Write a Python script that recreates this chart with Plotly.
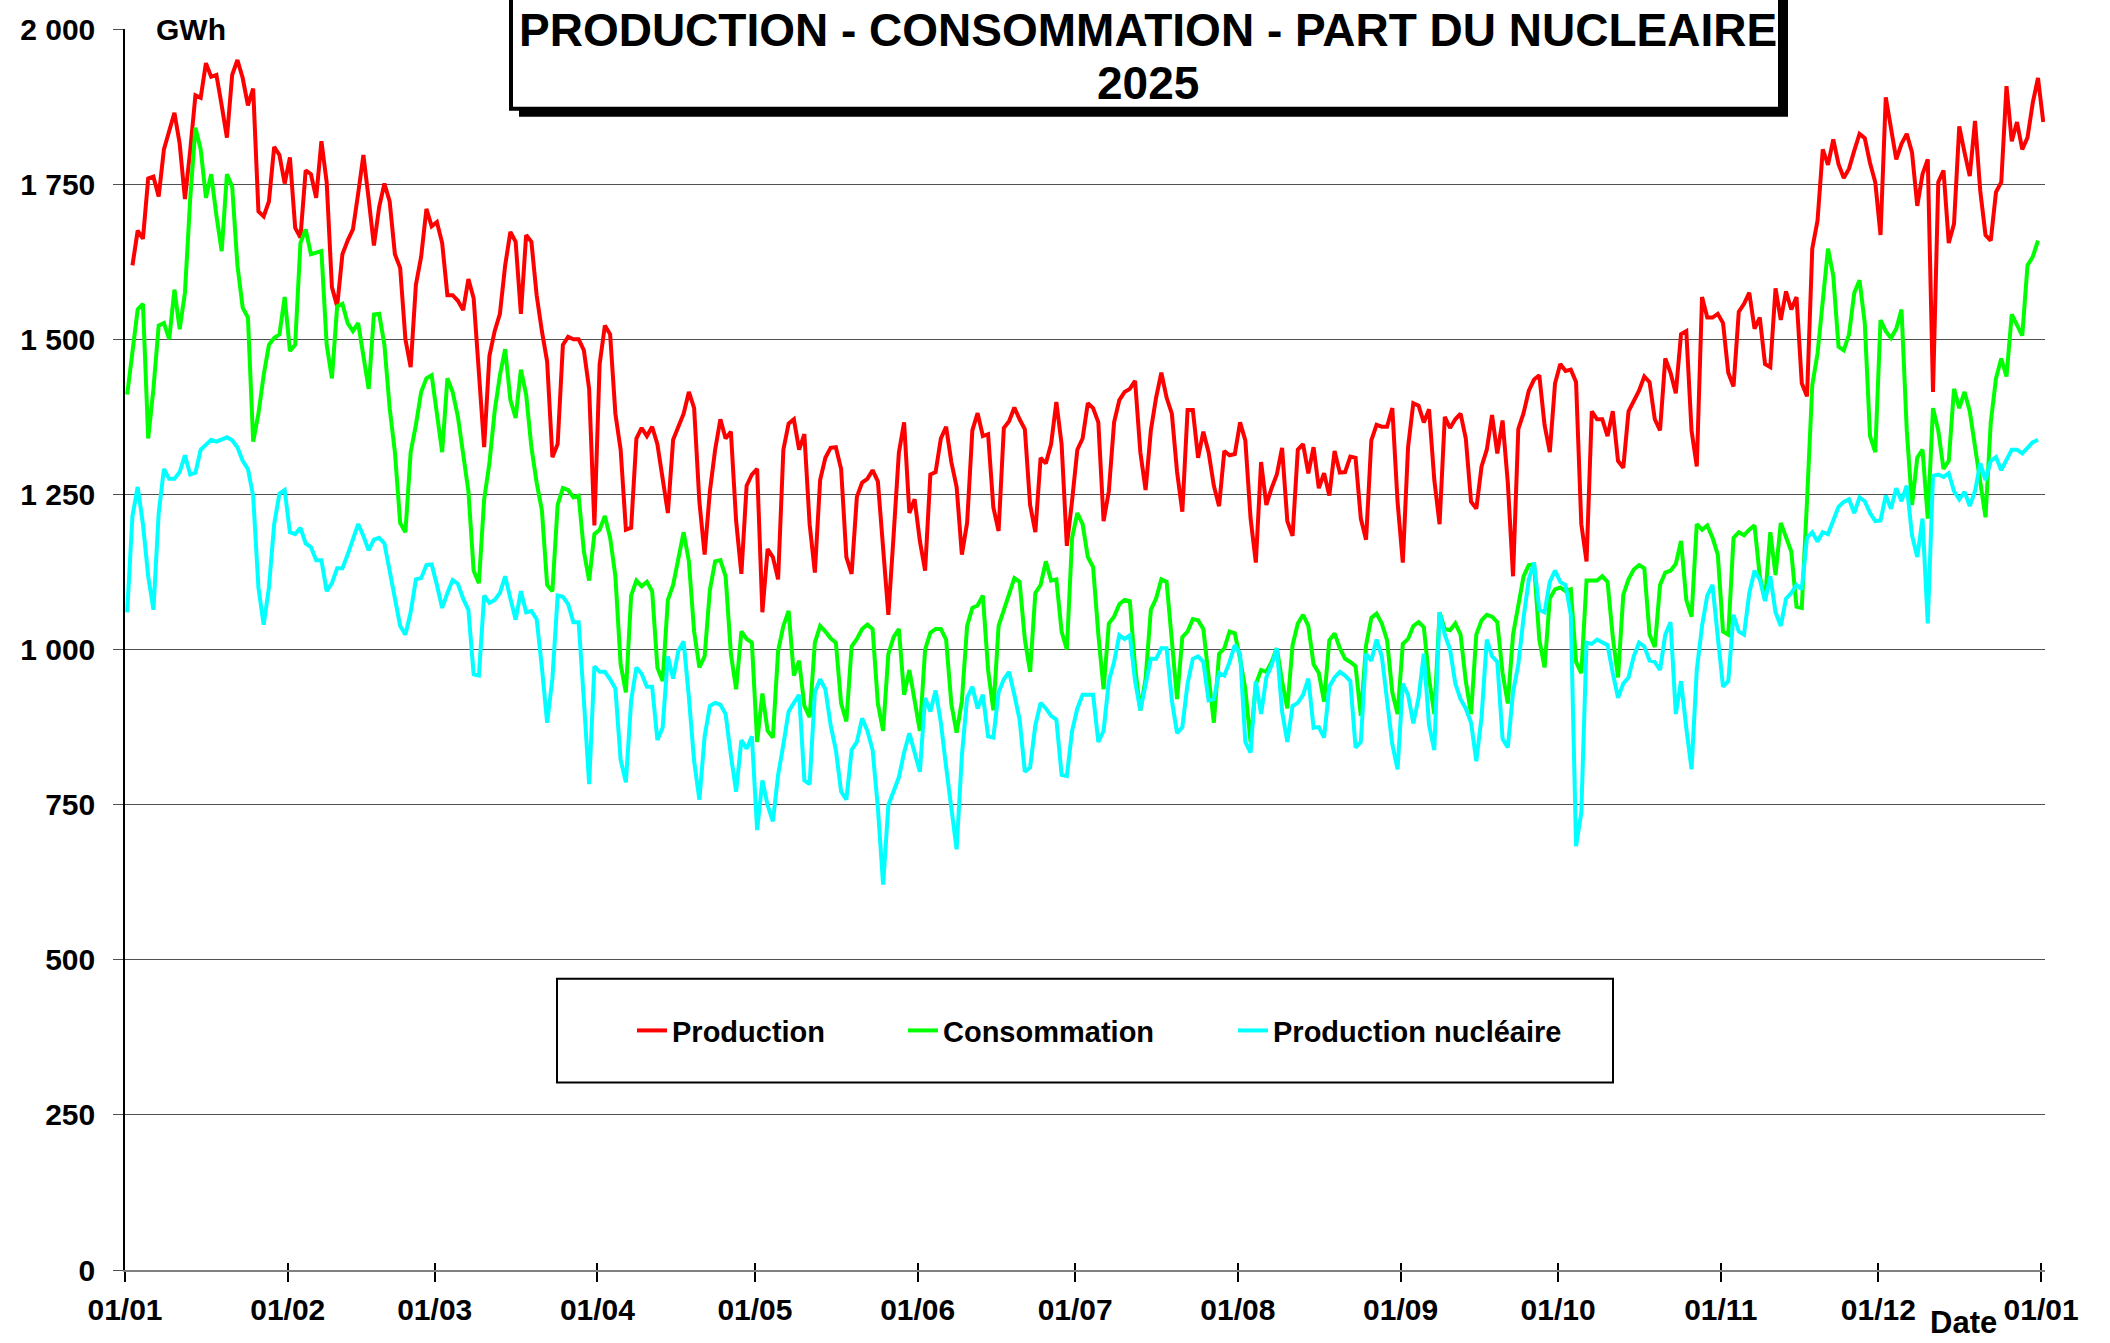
import pandas as pd
import plotly.graph_objects as go

# ---------------- data (GWh, daily, 2025) ----------------
production = [
    1619, 1675, 1662, 1759, 1762, 1730, 1806, 1834, 1865, 1815, 1726, 1804, 1893, 1889, 1945, 1923, 1926, 1877, 1825, 1926,
    1950, 1921, 1877, 1904, 1706, 1698, 1722, 1810, 1797, 1751, 1793, 1680, 1664, 1772, 1766, 1728,
    1819, 1753, 1584, 1553, 1637, 1659, 1677, 1735, 1797, 1726, 1651, 1713, 1751, 1722, 1637, 1615, 1500, 1455, 1588, 1633,
    1710, 1682, 1689, 1655, 1571, 1571, 1562, 1547, 1597, 1566, 1442, 1326, 1473, 1513, 1541, 1619, 1673,
    1657, 1541, 1668, 1657, 1571, 1513, 1464, 1310, 1331, 1491, 1504, 1500, 1500, 1482, 1420, 1200, 1460, 1522, 1508, 1380,
    1322, 1193, 1196, 1340, 1357, 1344, 1359, 1331, 1273, 1220, 1338, 1359, 1380, 1415, 1389, 1238,
    1153, 1255, 1322, 1371, 1340, 1351, 1207, 1122, 1264, 1282, 1291, 1060, 1162, 1149, 1113, 1322, 1364, 1371, 1322, 1347,
    1202, 1124, 1273, 1309, 1325, 1326, 1291, 1149, 1122, 1246, 1269, 1275, 1289, 1271, 1162, 1056,
    1184, 1317, 1366, 1220, 1242, 1175, 1127, 1282, 1286, 1340, 1359, 1302, 1262, 1153, 1204, 1353, 1381, 1344, 1347, 1229,
    1191, 1357, 1368, 1390, 1371, 1355, 1233, 1189, 1309, 1300, 1331, 1399, 1331, 1167, 1240, 1322,
    1340, 1397, 1389, 1366, 1207, 1255, 1366, 1402, 1415, 1420, 1433, 1318, 1257, 1353, 1406, 1446, 1406, 1380, 1286, 1222,
    1386, 1386, 1309, 1351, 1318, 1264, 1231, 1320, 1313, 1315, 1366, 1337, 1211, 1140, 1302, 1233, 1260,
    1282, 1325, 1207, 1183, 1322, 1331, 1284, 1326, 1260, 1284, 1248, 1320, 1285, 1286, 1311, 1309, 1211, 1177, 1337, 1362,
    1359, 1359, 1389, 1238, 1140, 1326, 1397, 1393, 1366, 1387, 1273, 1202, 1375, 1357, 1371, 1380,
    1340, 1238, 1227, 1295, 1322, 1378, 1316, 1369, 1269, 1118, 1355, 1381, 1417, 1435, 1442, 1362, 1318, 1429, 1460, 1449,
    1451, 1431, 1202, 1142, 1384, 1371, 1371, 1344, 1384, 1304, 1293, 1384, 1399, 1417, 1440, 1431,
    1371, 1353, 1469, 1446, 1413, 1508, 1513, 1353, 1295, 1568, 1535, 1535, 1541, 1526, 1446, 1424, 1544, 1557, 1575, 1517,
    1535, 1460, 1455, 1582, 1531, 1577, 1548, 1568, 1429, 1408, 1646, 1691, 1806, 1781, 1822, 1782,
    1760, 1775, 1804, 1831, 1824, 1784, 1753, 1668, 1890, 1840, 1790, 1815, 1831, 1801, 1715, 1766, 1790, 1415, 1753, 1772,
    1655, 1686, 1843, 1801, 1763, 1852, 1739, 1668, 1659, 1737, 1753, 1908, 1819, 1850, 1806, 1825, 1881, 1921, 1850,
]

consommation = [
    1411, 1477, 1548, 1557, 1340, 1420, 1522, 1526, 1500, 1580, 1516, 1575, 1726, 1841, 1806, 1728, 1766, 1699, 1642, 1766,
    1746, 1619, 1551, 1535, 1335, 1380, 1442, 1491, 1502, 1508, 1568, 1481, 1491, 1655, 1677, 1637, 1639,
    1642, 1491, 1437, 1553, 1557, 1526, 1513, 1526, 1468, 1420, 1540, 1541, 1491, 1389, 1318, 1204, 1189, 1318, 1362, 1415,
    1437, 1442, 1380, 1318, 1437, 1415, 1375, 1313, 1255, 1127, 1107, 1242, 1300, 1384, 1442, 1484, 1402,
    1373, 1451, 1411, 1326, 1269, 1224, 1104, 1094, 1233, 1260, 1257, 1245, 1248, 1158, 1111, 1186, 1193, 1215, 1180, 1118,
    976, 931, 1087, 1111, 1102, 1109, 1094, 971, 949, 1080, 1104, 1149, 1189, 1142, 1029, 971,
    989, 1096, 1142, 1144, 1118, 993, 936, 1029, 1017, 1011, 851, 929, 869, 858, 998, 1038, 1062, 958, 982, 909,
    891, 1011, 1038, 1029, 1018, 1011, 913, 884, 1005, 1017, 1033, 1040, 1033, 913, 869, 993,
    1020, 1033, 927, 967, 922, 869, 1000, 1027, 1033, 1033, 1016, 912, 866, 917, 1038, 1067, 1071, 1087, 967, 902,
    1038, 1064, 1091, 1115, 1109, 1016, 964, 1091, 1104, 1142, 1111, 1113, 1029, 1000, 1180, 1220,
    1202, 1149, 1133, 1024, 936, 1042, 1053, 1073, 1080, 1078, 971, 902, 953, 1064, 1082, 1113, 1109, 1016, 920, 1020,
    1029, 1049, 1047, 1033, 958, 882, 993, 1002, 1029, 1026, 985, 936, 851, 944, 967, 964, 980,
    1002, 949, 905, 1007, 1042, 1056, 1038, 976, 962, 916, 1015, 1026, 1002, 985, 980, 973, 893, 1007, 1051, 1058,
    1042, 1015, 931, 896, 1009, 1017, 1038, 1044, 1036, 953, 896, 1060, 1033, 1031, 1042, 1024,
    949, 896, 1024, 1047, 1056, 1053, 1044, 962, 913, 1024, 1069, 1118, 1136, 1137, 1016, 971, 1082, 1097, 1100, 1094,
    1097, 980, 962, 1111, 1111, 1111, 1118, 1109, 1020, 955, 1088, 1113, 1129, 1136, 1131, 1024,
    1004, 1104, 1124, 1127, 1138, 1175, 1080, 1053, 1202, 1193, 1200, 1180, 1153, 1029, 1024, 1180, 1189, 1184, 1193, 1200,
    1118, 1080, 1189, 1120, 1204, 1180, 1158, 1069, 1067, 1240, 1426, 1477, 1557, 1646, 1602, 1488,
    1482, 1508, 1575, 1595, 1526, 1344, 1318, 1531, 1513, 1502, 1517, 1548, 1353, 1233, 1309, 1322, 1211, 1389, 1353, 1291,
    1304, 1420, 1389, 1415, 1384, 1326, 1273, 1213, 1366, 1437, 1469, 1440, 1540, 1524, 1506, 1619, 1633, 1659,
]

nucleaire = [
    1060, 1215, 1262, 1202, 1118, 1064, 1220, 1291, 1275, 1275, 1286, 1313, 1282, 1285, 1322, 1331, 1338, 1335, 1338, 1342,
    1337, 1326, 1304, 1291, 1247, 1100, 1040, 1100, 1202, 1251, 1257, 1189, 1186, 1196, 1171, 1165, 1144,
    1144, 1094, 1107, 1131, 1131, 1153, 1180, 1202, 1183, 1160, 1177, 1180, 1171, 1127, 1087, 1038, 1024, 1060, 1113, 1115,
    1136, 1137, 1104, 1067, 1091, 1112, 1106, 1082, 1064, 960, 958, 1087, 1075, 1080, 1091, 1118, 1082,
    1048, 1094, 1060, 1062, 1049, 971, 882, 953, 1087, 1085, 1073, 1044, 1044, 918, 783, 973, 964, 964, 952, 937,
    822, 786, 918, 971, 961, 940, 940, 854, 874, 989, 953, 998, 1013, 923, 820, 758,
    860, 909, 914, 911, 896, 829, 771, 854, 840, 860, 709, 789, 749, 723, 798, 847, 900, 914, 927, 789,
    783, 931, 952, 936, 878, 838, 771, 758, 838, 851, 889, 869, 838, 745, 621, 749,
    771, 794, 834, 865, 834, 803, 922, 900, 934, 882, 811, 749, 678, 829, 922, 940, 905, 927, 860, 858,
    931, 952, 964, 927, 887, 803, 810, 878, 914, 905, 893, 887, 798, 796, 869, 905,
    927, 927, 927, 851, 869, 949, 980, 1023, 1017, 1023, 949, 902, 945, 985, 985, 1002, 1002, 918, 865, 875,
    945, 985, 989, 980, 918, 920, 962, 958, 980, 1007, 993, 851, 834, 949, 896, 955, 975,
    1002, 900, 851, 909, 914, 927, 953, 874, 875, 858, 940, 955, 964, 958, 949, 842, 851, 993, 982, 1016,
    989, 918, 847, 807, 945, 927, 881, 922, 993, 878, 838, 1060, 1024, 1000, 945, 920,
    905, 882, 820, 891, 1016, 989, 980, 856, 842, 931, 976, 1051, 1113, 1140, 1064, 1060, 1109, 1127, 1109, 1104,
    1056, 683, 737, 1011, 1009, 1016, 1011, 1007, 962, 922, 945, 955, 989, 1011, 1005, 982,
    980, 967, 1024, 1044, 896, 949, 874, 807, 967, 1038, 1087, 1104, 1020, 940, 949, 1056, 1029, 1024, 1091, 1127,
    1113, 1078, 1118, 1060, 1038, 1082, 1091, 1104, 1097, 1180, 1189, 1174, 1189, 1186, 1208, 1230,
    1238, 1242, 1220, 1245, 1239, 1220, 1207, 1208, 1248, 1227, 1260, 1239, 1264, 1184, 1149, 1211, 1042, 1280, 1282, 1278,
    1284, 1255, 1242, 1254, 1231, 1255, 1300, 1273, 1304, 1310, 1289, 1304, 1322, 1322, 1316, 1325, 1334, 1338,
]

series_names = ["Production", "Consommation", "Production nucléaire"]
series_colors = ["#FF0000", "#00FF00", "#00FFFF"]
y_tick_values = [0, 250, 500, 750, 1000, 1250, 1500, 1750, 2000]
y_tick_labels = ["0", "250", "500", "750", "1 000", "1 250", "1 500", "1 750", "2 000"]
title_line1 = "PRODUCTION - CONSOMMATION - PART DU NUCLEAIRE"
title_line2 = "2025"

# ---------------- figure ----------------
days = pd.date_range("2025-01-01", periods=365, freq="D")
x_main = days + pd.Timedelta(hours=10)
x_prod = days + pd.Timedelta(days=1, hours=10)

FONT = "Liberation Sans, Arial, sans-serif"
W, H = 2110, 1343
ML, MR, MT, MB = 125, 65, 26, 73
PW, PH = W - ML - MR, H - MT - MB


def px(xp):
    return (xp - ML) / PW


def py(yp):
    return (H - MB - yp) / PH


fig = go.Figure()
for name, color, xs, ys, lg in [
    (series_names[0], series_colors[0], x_prod, production, "legend"),
    (series_names[1], series_colors[1], x_main, consommation, "legend2"),
    (series_names[2], series_colors[2], x_main, nucleaire, "legend3"),
]:
    fig.add_trace(go.Scatter(x=xs, y=ys, mode="lines", name=name,
                             line=dict(color=color, width=4), legend=lg))

# invisible trace to carry the inner tick marks axis
fig.add_trace(go.Scatter(x=[x_main[0]], y=[None], xaxis="x2", showlegend=False,
                         hoverinfo="skip", mode="lines"))

x_range = ["2025-01-01 00:00", "2026-01-01 18:00"]
legend_common = dict(orientation="h", yanchor="middle", y=py(1030), xanchor="left",
                     bgcolor="rgba(0,0,0,0)", borderwidth=0,
                     font=dict(family=FONT, size=29, color="black", weight="bold"))

fig.update_layout(
    width=W, height=H,
    margin=dict(l=ML, r=MR, t=MT, b=MB),
    paper_bgcolor="white", plot_bgcolor="white",
    font=dict(family=FONT, color="black"),
    showlegend=True,
    legend=dict(legend_common, x=px(632)),
    legend2=dict(legend_common, x=px(903)),
    legend3=dict(legend_common, x=px(1233)),
    xaxis=dict(type="date", range=x_range, tick0="2025-01-01", dtick="M1", tickformat="%d/%m",
               showgrid=False, showline=True, linecolor="#808080", linewidth=2,
               ticks="outside", ticklen=10, tickcolor="black", tickwidth=1.5,
               tickfont=dict(family=FONT, size=30, color="black", weight="bold"),
               ticklabelstandoff=2, zeroline=False),
    xaxis2=dict(type="date", range=x_range, overlaying="x", anchor="y", side="bottom",
                tick0="2025-01-01", dtick="M1", ticks="inside", ticklen=7, tickcolor="black",
                tickwidth=1.5, showticklabels=False, showgrid=False, showline=False, zeroline=False),
    yaxis=dict(range=[0, 2000], tickvals=y_tick_values, ticktext=y_tick_labels,
               showgrid=True, gridcolor="#505050", gridwidth=1,
               showline=True, linecolor="black", linewidth=1.5,
               ticks="outside", ticklen=10, tickcolor="#505050", tickwidth=1,
               tickfont=dict(family=FONT, size=30, color="black", weight="bold"),
               ticklabelstandoff=12, zeroline=False),
)

# legend frame
fig.add_shape(type="rect", xref="paper", yref="paper", x0=px(557), x1=px(1613), y0=py(1082), y1=py(978),
              line=dict(color="black", width=2), fillcolor="white", layer="below")
# title box with shadow
fig.add_shape(type="rect", xref="paper", yref="paper", x0=px(519), x1=px(1788), y0=py(114), y1=py(-20),
              line=dict(width=0), fillcolor="black", layer="above")
fig.add_shape(type="rect", xref="paper", yref="paper", x0=px(511), x1=px(1780), y0=py(106), y1=py(-20),
              line=dict(color="black", width=4), fillcolor="white", layer="above")

fig.add_annotation(xref="paper", yref="paper", x=px(1148), y=py(27), text=title_line1, showarrow=False,
                   xanchor="center", yanchor="middle",
                   font=dict(family=FONT, size=46, color="black", weight="bold"))
fig.add_annotation(xref="paper", yref="paper", x=px(1148), y=py(80), text=title_line2, showarrow=False,
                   xanchor="center", yanchor="middle",
                   font=dict(family=FONT, size=46, color="black", weight="bold"))
fig.add_annotation(xref="paper", yref="paper", x=px(191), y=1, text="GWh", showarrow=False,
                   xanchor="center", yanchor="middle", bgcolor="white", borderpad=6,
                   font=dict(family=FONT, size=30, color="black", weight="bold"))
fig.add_annotation(xref="paper", yref="paper", x=px(1963), y=py(1323), text="Date", showarrow=False,
                   xanchor="center", yanchor="middle",
                   font=dict(family=FONT, size=31, color="black", weight="bold"))

fig.write_html("out.html", config={"displayModeBar": False},
               post_script="document.body.style.margin='0';")
